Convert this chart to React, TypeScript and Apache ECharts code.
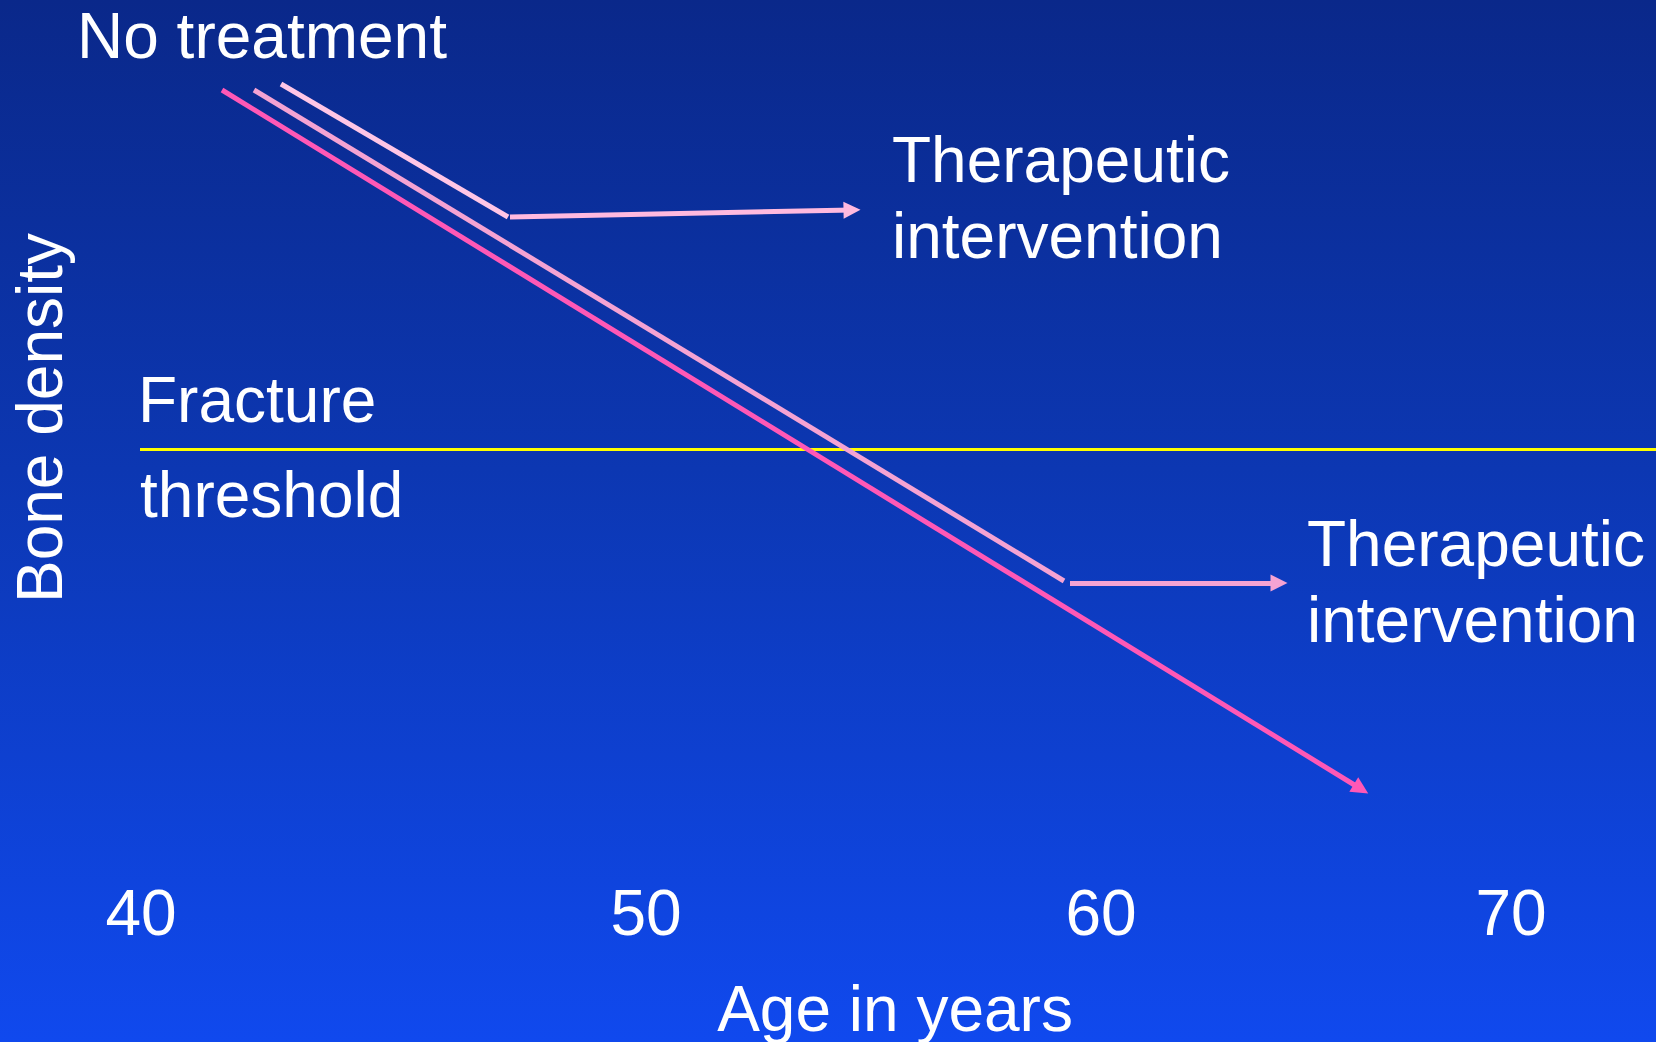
import React, { useEffect, useRef } from "react";
import * as echarts from "echarts";

// Diagram coordinate space (slide units, y grows downward)
const SPACE_W = 1656;
const SPACE_H = 1042;

// x-axis ticks (ages) and where they sit along the slide
const xTickLabels = ["40", "50", "60", "70"];
const xTickPos = [141, 646, 1101, 1511];
const xTickRow = 913;

// Lines (endpoints in slide units)
const noTreatmentLine = [[222, 90], [1361, 789]];
const treatmentLineLate = [[254, 90], [1064, 581]];
const treatmentArrowLate = [[1070, 583], [1279, 583]];
const treatmentLineEarly = [[281, 84], [508, 217]];
const treatmentArrowEarly = [[510, 217], [852, 210]];
const thresholdLine = [[140, 449], [1656, 449]];

// Text annotations: [text, x, y]
const annotations: [string, number, number][] = [
  ["No treatment", 77, 36],
  ["Therapeutic\nintervention", 892, 198],
  ["Fracture", 138, 400],
  ["threshold", 140, 495],
  ["Therapeutic\nintervention", 1307, 582],
];
const xAxisTitle: [string, number, number] = ["Age in years", 895, 1009];
const yAxisTitle: [string, number, number] = ["Bone density", 40, 418];

const FONT = "'Liberation Sans', Arial, Helvetica, sans-serif";
const FONT_SIZE = 64;

export default function App() {
  const ref = useRef<HTMLDivElement>(null);

  useEffect(() => {
    if (!ref.current) return;
    const chart = echarts.init(ref.current, null, { renderer: "svg" });

    const baseLabel = {
      show: true,
      color: "#ffffff",
      opacity: 1,
      textBorderWidth: 0,
      fontFamily: FONT,
      fontSize: FONT_SIZE,
      lineHeight: 76,
      position: [0, 0],
      align: "left",
      verticalAlign: "middle",
    };

    const textData: any[] = [
      ...annotations.map(([t, x, y]) => ({
        name: t,
        value: [x, y],
        label: { ...baseLabel, formatter: t },
      })),
      ...xTickLabels.map((t, i) => ({
        name: t,
        value: [xTickPos[i], xTickRow],
        label: { ...baseLabel, align: "center", formatter: t },
      })),
      {
        name: xAxisTitle[0],
        value: [xAxisTitle[1], xAxisTitle[2]],
        label: { ...baseLabel, align: "center", formatter: xAxisTitle[0] },
      },
      {
        name: yAxisTitle[0],
        value: [yAxisTitle[1], yAxisTitle[2]],
        label: {
          ...baseLabel,
          align: "center",
          rotate: 90,
          formatter: yAxisTitle[0],
        },
      },
    ];

    const plainLine = (coords: number[][], color: string, width: number) => ({
      type: "lines",
      coordinateSystem: "cartesian2d",
      silent: true,
      symbol: ["none", "none"],
      lineStyle: { color, width, opacity: 1, cap: "butt" },
      data: [{ coords }],
    });
    const arrowLine = (coords: number[][], color: string, width: number) => ({
      type: "lines",
      coordinateSystem: "cartesian2d",
      silent: true,
      symbol: ["none", "triangle"],
      symbolSize: [15, 17],
      itemStyle: { color },
      lineStyle: { color, width, opacity: 1, cap: "butt" },
      data: [{ coords }],
    });

    chart.setOption({
      animation: false,
      backgroundColor: "transparent",
      grid: { left: 0, right: 0, top: 0, bottom: 0, containLabel: false },
      xAxis: { type: "value", min: 0, max: SPACE_W, show: false, splitLine: { show: false } },
      yAxis: { type: "value", min: 0, max: SPACE_H, inverse: true, show: false, splitLine: { show: false } },
      tooltip: { show: false },
      series: [
        plainLine(thresholdLine, "#FFFF00", 3),
        arrowLine(noTreatmentLine, "#FF58B6", 5),
        plainLine(treatmentLineLate, "#F5A3D3", 5),
        arrowLine(treatmentArrowLate, "#F5A3D3", 5),
        plainLine(treatmentLineEarly, "#FFC6E6", 5),
        arrowLine(treatmentArrowEarly, "#FFBADF", 5),
        {
          type: "scatter",
          silent: true,
          symbolSize: 0,
          itemStyle: { color: "#ffffff", opacity: 1 },
          emphasis: { disabled: true },
          data: textData,
          z: 10,
        },
      ],
    });

    return () => chart.dispose();
  }, []);

  return (
    <div
      ref={ref}
      style={{
        position: "absolute",
        left: 0,
        top: 0,
        width: SPACE_W,
        height: SPACE_H,
        background: "linear-gradient(180deg, #0A288A 0%, #0C37B2 45%, #1049EE 100%)",
      }}
    />
  );
}
